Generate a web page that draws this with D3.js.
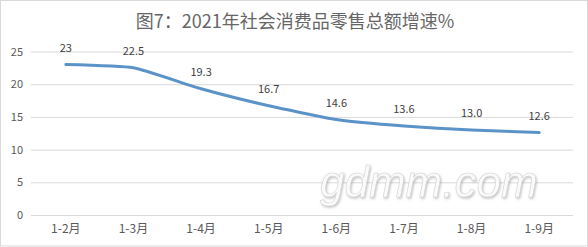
<!DOCTYPE html>
<html>
<head>
<meta charset="utf-8">
<script src="https://cdn.jsdelivr.net/npm/d3@7"></script>
<style>
  body { margin: 0; background: #fff; }
  text { font-family: "Noto Sans CJK SC", "Noto Sans", sans-serif; }
</style>
</head>
<body>
<div id="chart"></div>
<script>
// chart data
const months = ['1-2月', '1-3月', '1-4月', '1-5月', '1-6月', '1-7月', '1-8月', '1-9月'];
const growth = [23, 22.5, 19.3, 16.7, 14.6, 13.6, 13.0, 12.6];
const growthLabels = ['23', '22.5', '19.3', '16.7', '14.6', '13.6', '13.0', '12.6'];
const yTicks = [0, 5, 10, 15, 20, 25];
const title = '图7：2021年社会消费品零售总额增速%';

const width = 588;
const height = 247;

const svg = d3.select('#chart').append('svg')
    .attr('width', width)
    .attr('height', height);

// outer frame
svg.append('rect')
    .attr('x', 0.5).attr('y', 0.5)
    .attr('width', width - 1).attr('height', height - 1.5)
    .attr('fill', '#fff')
    .attr('stroke', '#d9d9d9');

const xScale = d3.scaleBand()
    .domain(months)
    .range([32, 573]);

const yScale = d3.scaleLinear()
    .domain([0, 25])
    .range([215, 51.5]);

// gridlines + y labels
const yAxis = svg.append('g')
    .attr('transform', 'translate(31,0)')
    .call(d3.axisLeft(yScale).tickValues(yTicks).tickSize(-542).tickPadding(8));
yAxis.select('.domain').remove();
yAxis.selectAll('line').attr('stroke', '#d9d9d9');
yAxis.selectAll('text')
    .attr('fill', '#595959')
    .style('font-size', '11px');

// x labels
const xAxis = svg.append('g')
    .attr('transform', 'translate(0,215)')
    .call(d3.axisBottom(xScale).tickSize(0).tickPadding(9));
xAxis.select('.domain').remove();
xAxis.selectAll('text')
    .attr('fill', '#595959')
    .style('font-size', '12px');

// title
svg.append('text')
    .attr('x', 295)
    .attr('y', 28)
    .attr('text-anchor', 'middle')
    .attr('fill', '#666')
    .style('font-size', '18px')
    .text(title);

// watermark
const defs = svg.append('defs');
const shadow = defs.append('filter').attr('id', 'wm-shadow')
    .attr('x', '-10%').attr('y', '-10%').attr('width', '120%').attr('height', '130%');
shadow.append('feDropShadow')
    .attr('dx', 1).attr('dy', 1.5).attr('stdDeviation', 0.8)
    .attr('flood-color', '#888').attr('flood-opacity', 0.5);

svg.append('text')
    .attr('x', 320)
    .attr('y', 197)
    .attr('fill', '#fafafa')
    .attr('stroke', '#d0d0d0')
    .attr('stroke-width', 0.5)
    .attr('filter', 'url(#wm-shadow)')
    .style('font-family', '"Liberation Sans", sans-serif')
    .style('font-style', 'italic')
    .style('font-size', '44px')
    .text('gdmm.com');

// line
const pts = months.map((m, i) => [xScale(m) + xScale.bandwidth() / 2, yScale(growth[i])]);

svg.append('path')
    .datum(pts)
    .attr('fill', 'none')
    .attr('stroke', '#5b93c8')
    .attr('stroke-width', 3)
    .attr('stroke-linecap', 'round')
    .attr('d', d3.line().curve(d3.curveCardinal.tension(0.55)));

// value labels
svg.selectAll('.val')
    .data(months)
    .enter().append('text')
    .attr('class', 'val')
    .attr('x', d => xScale(d) + xScale.bandwidth() / 2)
    .attr('y', (d, i) => yScale(growth[i]) - 13)
    .attr('text-anchor', 'middle')
    .attr('fill', '#404040')
    .style('font-size', '11px')
    .text((d, i) => growthLabels[i]);
</script>
</body>
</html>
